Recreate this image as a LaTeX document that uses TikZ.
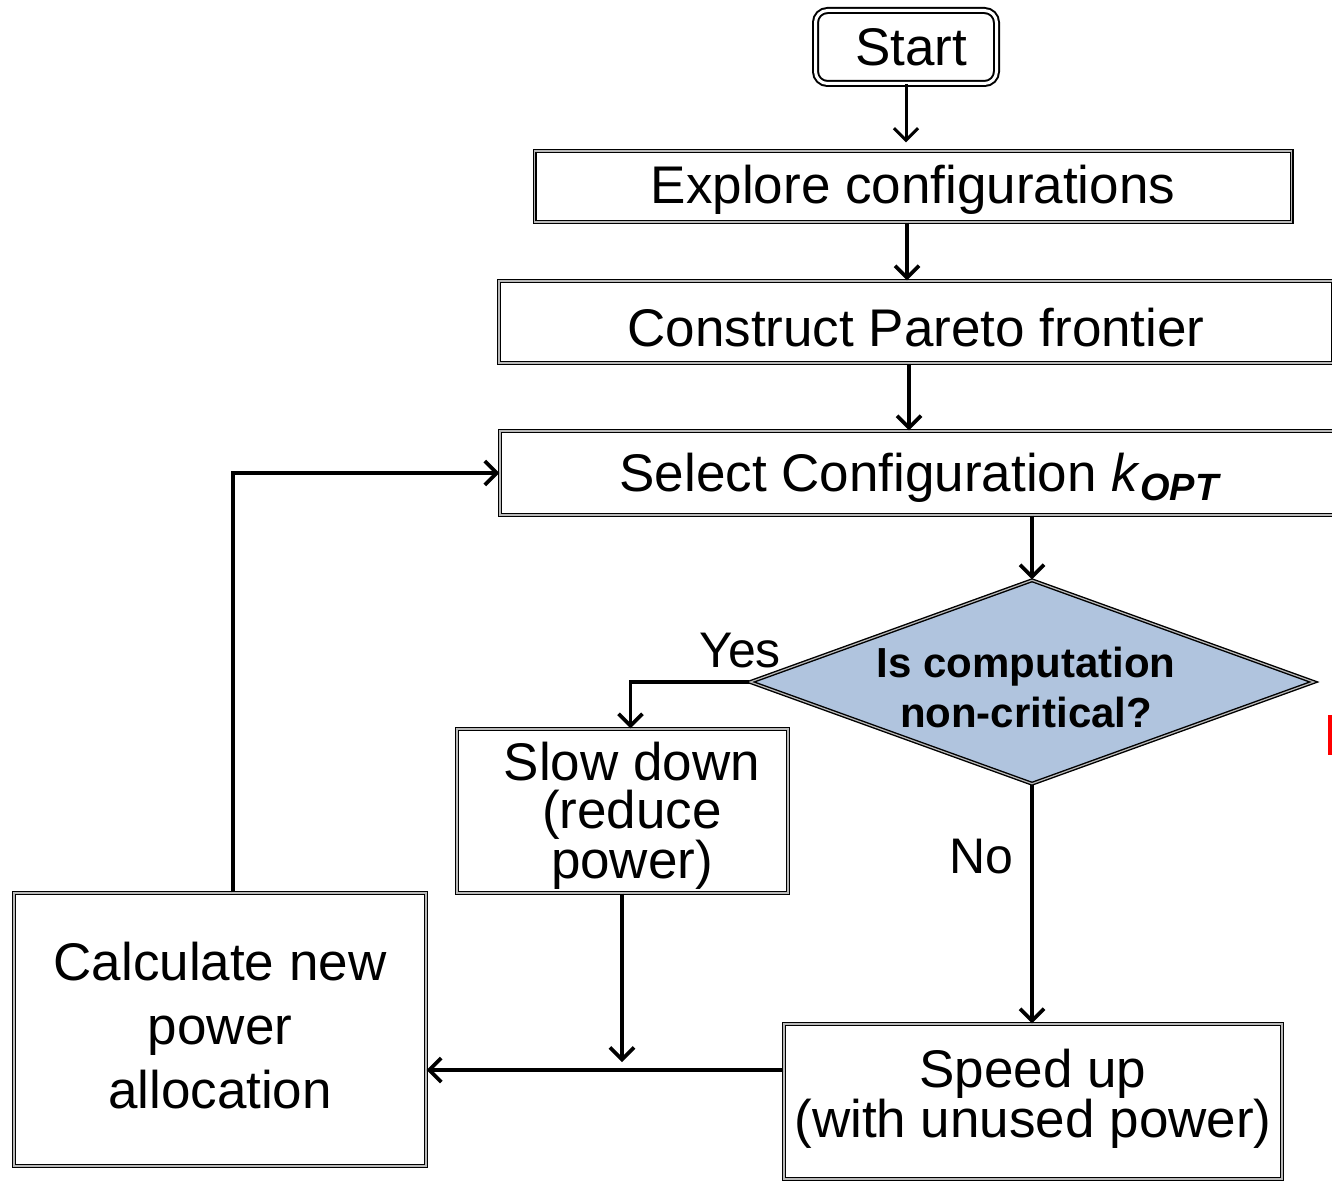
\documentclass[tikz,border=0pt]{standalone}
\usepackage{fontspec}
\setmainfont{Liberation Sans}
\usetikzlibrary{arrows.meta,shapes.geometric}
\definecolor{qfill}{RGB}{176,196,222}

\begin{document}
\begin{tikzpicture}[x=1pt,y=-1pt,
  frame/.style={draw=black, line width=1.4pt, double=gray!55, double distance=1.2pt},
  box/.style={frame, rectangle, inner sep=0pt, align=center,
    font=\fontsize{53}{48}\selectfont},
  txt/.style={inner sep=0pt, align=center, font=\fontsize{53}{48}\selectfont},
  lbl/.style={inner sep=0pt, font=\fontsize{50}{50}\selectfont},
  conn/.style={line width=3.6pt, line join=miter},
  arr/.style={conn, -{Straight Barb[length=12pt,width=24pt]}},
]
\useasboundingbox (0,0) rectangle (1332,1182);
\clip (0,0) rectangle (1332,1182);

% start terminal
\node[draw, line width=2pt, double=white, double distance=3pt, rounded corners=12pt,
      minimum width=181pt, minimum height=73pt, inner sep=0pt,
      font=\fontsize{53}{53}\selectfont] (start) at (906,47) {\hspace{10pt}Start};

% process steps
\node[box, minimum width=757pt, minimum height=71pt, text height=46pt, text depth=11pt]
  (explore) at (913,186.5) {Explore configurations};
\node[box, minimum width=834pt, minimum height=82pt, text height=48pt, text depth=0pt]
  (construct) at (916,322) {Construct Pareto frontier};
\node[box, minimum width=838pt, minimum height=84pt, text height=48pt, text depth=11pt]
  (select) at (919,473)
  {Select Configuration \textit{k}\raisebox{-9pt}[0pt][0pt]{\fontsize{38}{38}\selectfont\bfseries\itshape OPT}};

% decision
\node[diamond, draw=black, line width=1.4pt, double=gray!55, double distance=1.2pt,
      fill=qfill, aspect=2.73, inner sep=0pt,
      minimum width=564pt, minimum height=204pt] (q) at (1032,682) {};
\node[inner sep=0pt, align=center, font=\fontsize{42}{50}\selectfont\bfseries]
  (qtext) at (1026,687) {Is computation\\non-critical?};

% branches
\node[box, minimum width=331pt, minimum height=164pt] (slow) at (622.5,811) {};
\node[txt] (slowtext) at (632,816) {Slow down\\(reduce\\power)};

\node[box, minimum width=498pt, minimum height=155pt] (speed) at (1033,1101.5) {};
\node[txt] (speedtext) at (1033,1099) {Speed up\\(with unused power)};

\node[box, minimum width=412pt, minimum height=273pt] (calc) at (220,1029.5) {};
\node[txt, font=\fontsize{53}{64}\selectfont] (calctext) at (220,1026)
  {Calculate new\\power\\allocation};

% branch labels
\node[lbl] (yes) at (740,651) {Yes};
\node[lbl] (no) at (981,857) {No};

% merge point of the two branches
\coordinate (merge) at (622,1070);

% connectors
\draw[arr, line width=3pt] (start.south) -- ([yshift=8pt]start.south |- explore.north);
\draw[arr] ([xshift=-6pt]explore.south) -- ([xshift=-6pt]explore.south |- construct.north);
\draw[arr] ([xshift=-7pt]construct.south) -- ([xshift=-7pt]construct.south |- select.north);
\draw[arr] (q.north |- select.south) -- (q.north);
\draw[arr] (q.west) -| ([xshift=8pt]slow.north);
\draw[arr] (q.south) -- (q.south |- speed.north);
\draw[arr] (slow.south -| merge) -- ([yshift=8pt]merge);
\draw[arr] (speed.west |- merge) -- (calc.east |- merge);
\draw[arr] ([xshift=13pt]calc.north) |- (select.west);

% small red mark at the right edge
\fill[red] (1328,715) rectangle (1333,755);
\end{tikzpicture}
\end{document}
